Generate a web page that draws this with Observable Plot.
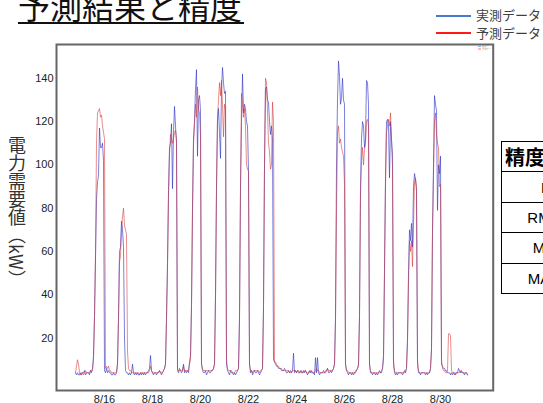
<!DOCTYPE html>
<html>
<head>
<meta charset="utf-8">
<script src="https://cdn.jsdelivr.net/npm/d3@7"></script>
<script src="https://cdn.jsdelivr.net/npm/@observablehq/plot@0.6"></script>
<style>
  html, body { margin: 0; padding: 0; background: #fff; }
  #page { position: relative; width: 543px; height: 403px; overflow: hidden; background: #fff;
          font-family: "Noto Sans CJK JP", "Noto Sans", sans-serif; }
  #chart { position: absolute; left: 0; top: 0; }
  .abs { position: absolute; white-space: nowrap; }
  #title { left: 18px; top: -11px; font-size: 32px; line-height: 32px; color: #111; letter-spacing: 0; }
  #titleLine { left: 18px; top: 22px; width: 226px; height: 2px; background: #111; }
  .legLine { height: 2px; width: 35px; }
  .legText { font-size: 13px; line-height: 13px; color: #404040; }
  #ylabel { left: 7px; top: 136px; writing-mode: vertical-rl; font-size: 18px; line-height: 19px; color: #333; }
  table.acc { position: absolute; left: 501px; top: 141px; border-collapse: collapse; width: 96px; }
  table.acc td { border: 1px solid #000; height: 29.4px; padding: 0; text-align: center;
                 font-family: "Liberation Sans", Arial, sans-serif; font-size: 15px; color: #000; }
  table.acc td.head { text-align: left; padding-left: 3px; font-family: "Noto Sans CJK JP", sans-serif;
                      font-weight: bold; font-size: 20px; }
</style>
</head>
<body>
<div id="page">
  <div id="chart"></div>
  <div id="title" class="abs">予測結果と精度</div>
  <div id="titleLine" class="abs"></div>
  <div id="legend"></div>
  <div id="ylabel" class="abs">電力需要値（kW）</div>
  <table class="acc" id="acc"></table>
</div>
<script>
// ---- data (hourly, kW) ----
const seriesNames = ["実測データ", "予測データ"];
const seriesColors = ["#2f35c8", "#d42a2a"];
const legendColors = ["#4a78cc", "#ff1a1a"];
const firstHour = "2019-08-15T11:00:00Z";   // first sample
const tickLabels = ["8/16", "8/18", "8/20", "8/22", "8/24", "8/26", "8/28", "8/30"];
const yTicks = [20, 40, 60, 80, 100, 120, 140];
const accuracyRows = ["R²", "RMSE", "MAE", "MAPE"];
const accuracyHeader = "精度指標";

const actualKW = [
  /* 8/15 11h- */ 4,3,4,3,3,4,3,4,4,5,3,4,4,
  /* 8/16 */ 4,3,5,4,6,12,30,57,84,92,95,117,108,108,110,102,5,4,6,4,5,4,4,3,
  /* 8/17 */ 3,4,3,3,4,8,30,60,62,74,70,62,20,5,4,4,3,4,3,4,8,4,3,4,
  /* 8/18 */ 3,4,3,3,4,3,4,3,4,3,4,4,5,6,12,5,4,3,4,4,3,4,4,5,
  /* 8/19 */ 4,3,4,5,6,8,30,55,88,108,110,119,89,115,127,118,110,5,4,6,5,4,5,8,
  /* 8/20 */ 4,5,4,5,4,9,12,35,80,112,120,135,144,104,130,132,125,8,5,4,4,5,3,4,
  /* 8/21 */ 5,4,4,5,5,6,8,40,90,120,126,115,103,135,145,138,133,134,8,5,4,3,5,4,
  /* 8/22 */ 4,3,4,3,4,5,6,30,90,120,142,124,128,126,120,118,97,8,4,5,3,4,5,4,
  /* 8/23 */ 4,5,4,3,4,5,6,35,100,135,136,130,129,120,114,118,112,10,9,8,7,7,6,6,
  /* 8/24 */ 6,5,5,5,6,5,4,4,5,4,5,4,5,13,4,5,4,5,4,4,5,4,4,5,
  /* 8/25 */ 4,5,4,3,4,5,4,5,4,4,3,11,4,11,4,3,4,4,4,5,4,4,5,6,
  /* 8/26 */ 4,4,5,4,5,6,8,30,100,130,148,141,128,131,140,130,128,8,5,4,3,4,4,3,
  /* 8/27 */ 4,3,4,4,5,6,8,30,90,112,120,118,108,112,139,138,128,8,4,4,3,4,4,3,
  /* 8/28 */ 4,3,4,5,4,4,6,12,50,95,120,121,118,94,120,112,105,8,4,3,4,3,4,4,
  /* 8/29 */ 4,4,3,4,5,4,6,20,50,70,65,73,62,90,96,93,88,8,4,4,3,4,4,4,
  /* 8/30 */ 4,3,4,3,4,4,6,15,70,100,132,128,125,79,100,96,104,8,7,6,6,5,5,4,
  /* 8/31 -19h */ 4,4,3,4,3,4,4,3,4,4,6,5,4,5,4,4,3,4,4,3
];
const predictedKW = [
  /* 8/15 11h- */ 4,7,10,8,4,3,4,4,3,4,5,4,4,
  /* 8/16 */ 4,4,5,5,5,10,30,58,110,124,125,126,122,123,118,115,112,6,7,6,7,5,5,4,
  /* 8/17 */ 4,4,4,4,4,8,28,55,58,70,76,80,72,70,68,14,6,5,5,4,4,4,4,4,
  /* 8/18 */ 4,4,4,3,4,4,4,4,4,4,4,4,4,5,7,5,4,4,4,4,4,4,4,5,
  /* 8/19 */ 4,4,4,5,6,8,28,52,85,105,114,112,110,112,115,116,112,6,5,5,5,5,5,7,
  /* 8/20 */ 5,5,5,5,5,8,10,35,78,110,119,128,122,136,126,124,113,8,6,5,5,5,5,5,
  /* 8/21 */ 5,5,5,5,5,6,8,38,88,122,130,138,132,139,128,113,128,125,10,6,5,5,5,5,
  /* 8/22 */ 4,4,4,5,5,5,6,28,88,133,128,122,126,118,100,98,97,8,5,5,4,5,5,5,
  /* 8/23 */ 5,5,5,4,5,5,6,33,100,140,138,125,110,106,98,100,129,120,9,9,8,7,7,6,
  /* 8/24 */ 6,6,5,5,5,5,5,5,5,4,4,4,5,5,5,5,4,5,5,4,4,5,4,4,
  /* 8/25 */ 5,5,4,4,4,4,5,4,4,4,4,5,6,5,5,4,4,4,4,4,4,5,5,6,
  /* 8/26 */ 5,5,5,5,5,6,8,28,78,115,118,110,112,108,106,104,91,8,5,5,4,4,4,4,
  /* 8/27 */ 4,4,4,5,5,6,7,30,85,102,108,100,107,110,120,121,118,8,5,4,4,4,4,4,
  /* 8/28 */ 4,4,4,4,4,5,6,10,52,90,115,118,121,118,124,110,99,10,5,4,4,4,4,4,
  /* 8/29 */ 4,4,4,4,4,5,6,18,45,65,60,65,53,72,92,94,90,10,5,4,4,4,4,4,
  /* 8/30 */ 4,4,4,4,4,4,6,15,68,95,120,124,114,110,108,90,91,10,6,5,5,4,4,5,
  /* 8/31 -19h */ 22,22,21,5,4,4,3,4,4,4,4,4,5,4,4,4,4,4,4,3
];

// ---- build table ----
const H = 3600e3;
const t0 = new Date(firstHour).getTime();
const rows = [];
[actualKW, predictedKW].forEach((arr, si) => {
  arr.forEach((v, i) => rows.push({series: seriesNames[si], t: new Date(t0 + i * H), kw: v}));
});
const base = Date.UTC(2019, 7, 16, 0);
const tickDates = tickLabels.map(s => {
  const [m, d] = s.split("/").map(Number);
  return new Date(Date.UTC(2019, m - 1, d, 16));
});

const chart = Plot.plot({
  width: 543,
  height: 403,
  marginLeft: 56,
  marginRight: 50.3,
  marginTop: 44,
  marginBottom: 13,
  style: {fontFamily: "'Liberation Sans', Arial, sans-serif", fontSize: "11px", color: "#222", background: "transparent", overflow: "visible"},
  x: {type: "utc", domain: [new Date(base - 32 * H), new Date(base + 404.7 * H)],
      ticks: tickDates, tickFormat: d => `${d.getUTCMonth() + 1}/${d.getUTCDate()}`,
      tickSize: 0, tickPadding: 5, label: null},
  y: {domain: [-4.2, 155.6], ticks: yTicks, tickSize: 0, tickPadding: 3, label: null},
  color: {domain: seriesNames, range: seriesColors},
  marks: [
    Plot.line(rows.filter(d => d.series === seriesNames[0]), {x: "t", y: "kw", stroke: "series", strokeWidth: 0.9, strokeOpacity: 0.7}),
    Plot.line(rows.filter(d => d.series === seriesNames[1]), {x: "t", y: "kw", stroke: "series", strokeWidth: 0.9, strokeOpacity: 0.6}),
    Plot.frame({stroke: "#666", strokeWidth: 2})
  ]
});
document.getElementById("chart").appendChild(chart);

// ---- legend (top right) ----
const leg = document.getElementById("legend");
seriesNames.forEach((name, i) => {
  const y = 15.7 + i * 17.6;
  const ln = document.createElement("div");
  ln.className = "abs legLine";
  ln.style.left = "436px"; ln.style.top = (y - 1) + "px"; ln.style.background = legendColors[i];
  leg.appendChild(ln);
  const tx = document.createElement("div");
  tx.className = "abs legText";
  tx.style.left = "476px"; tx.style.top = (y - 7.5) + "px";
  tx.textContent = name;
  leg.appendChild(tx);
});
// tiny inset legend inside the frame
const mini = document.createElementNS("http://www.w3.org/2000/svg", "svg");
mini.setAttribute("width", "14"); mini.setAttribute("height", "7");
mini.style.position = "absolute"; mini.style.left = "477px"; mini.style.top = "45px";
seriesNames.forEach((name, i) => {
  const l = document.createElementNS("http://www.w3.org/2000/svg", "line");
  l.setAttribute("x1", 1); l.setAttribute("x2", 4); l.setAttribute("y1", 1.5 + i * 2.5); l.setAttribute("y2", 1.5 + i * 2.5);
  l.setAttribute("stroke", legendColors[i]); l.setAttribute("stroke-width", 0.6);
  mini.appendChild(l);
  const t = document.createElementNS("http://www.w3.org/2000/svg", "text");
  t.setAttribute("x", 5); t.setAttribute("y", 2.3 + i * 2.5); t.setAttribute("font-size", 2.2); t.setAttribute("fill", "#999");
  t.textContent = name;
  mini.appendChild(t);
});
document.getElementById("page").appendChild(mini);

// ---- accuracy table (partly outside the window) ----
const tbl = document.getElementById("acc");
const hr = tbl.insertRow(); const hc = hr.insertCell(); hc.className = "head"; hc.textContent = accuracyHeader;
accuracyRows.forEach(r => { const tr = tbl.insertRow(); const c = tr.insertCell(); c.textContent = r; });
</script>
</body>
</html>
